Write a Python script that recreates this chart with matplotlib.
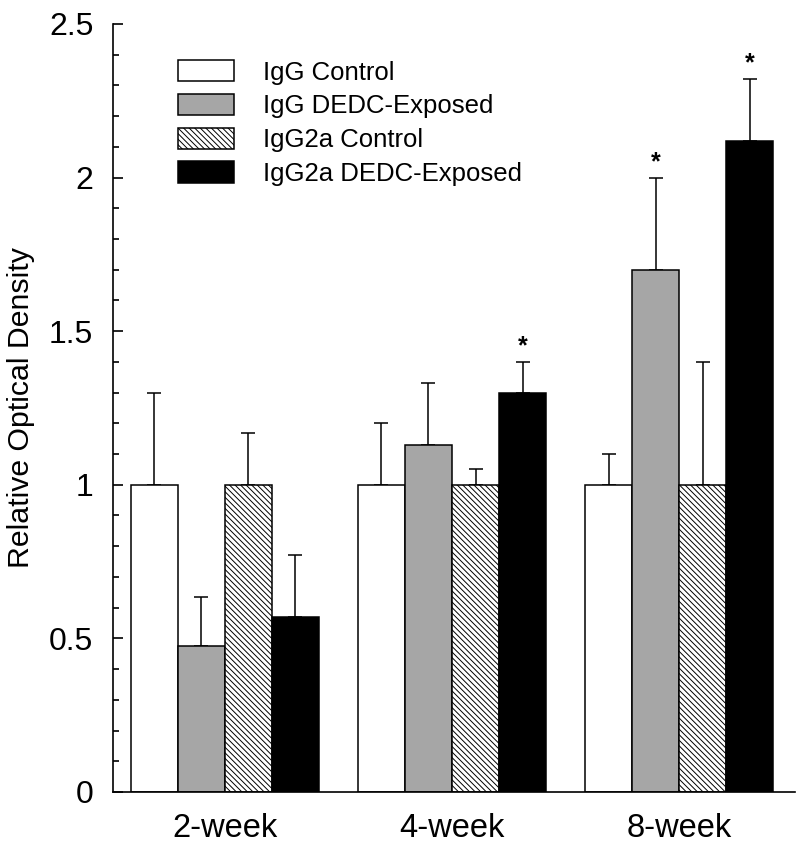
import matplotlib
matplotlib.use("Agg")
import matplotlib.pyplot as plt
import numpy as np
from matplotlib.ticker import MultipleLocator

plt.rcParams['font.family'] = ['Liberation Sans', 'DejaVu Sans']
plt.rcParams['hatch.color'] = '#888888'
plt.rcParams['hatch.linewidth'] = 0.7

groups = ["2-week", "4-week", "8-week"]
series = ["IgG Control", "IgG DEDC-Exposed", "IgG2a Control", "IgG2a DEDC-Exposed"]
igg_control = [1.0, 1.0, 1.0]
igg_dedc = [0.475, 1.13, 1.70]
igg2a_control = [1.0, 1.0, 1.0]
igg2a_dedc = [0.57, 1.30, 2.12]
err_igg_control = [0.30, 0.20, 0.10]
err_igg_dedc = [0.16, 0.20, 0.30]
err_igg2a_control = [0.17, 0.05, 0.40]
err_igg2a_dedc = [0.20, 0.10, 0.20]
# significance markers, per series, per group
sig_igg_control = [False, False, False]
sig_igg_dedc = [False, False, True]
sig_igg2a_control = [False, False, False]
sig_igg2a_dedc = [False, True, True]

values = [igg_control, igg_dedc, igg2a_control, igg2a_dedc]
errors = [err_igg_control, err_igg_dedc, err_igg2a_control, err_igg2a_dedc]
sigs = [sig_igg_control, sig_igg_dedc, sig_igg2a_control, sig_igg2a_dedc]
facecolors = ['white', '#a6a6a6', 'white', 'black']
hatches = [None, None, '\\\\\\\\\\\\', None]

fig = plt.figure(figsize=(8, 8.55), dpi=100)
ax = fig.add_axes([0.141, 0.0737, 0.853, 0.8983])

width = 47 / 227
x = np.arange(len(groups))
for i in range(4):
    pos = x + (i - 1.5) * width
    ax.bar(pos, values[i], width, color=facecolors[i], edgecolor='black',
           linewidth=1.1, hatch=hatches[i], label=series[i], zorder=2)
    ax.errorbar(pos, values[i], yerr=[np.zeros(3), errors[i]], fmt='none',
                ecolor='black', elinewidth=1.1, capsize=4.7, capthick=1.1, zorder=1)
    for g in range(3):
        if sigs[i][g]:
            ax.text(pos[g], values[i][g] + errors[i][g] + 0.012, '*', ha='center',
                    va='bottom', fontsize=18, fontweight='bold')

ax.set_xlim(-(225 - 113) / 227, (795 - 225) / 227)
ax.set_ylim(0, 2.5)
ax.set_xticks(x)
ax.set_xticklabels(groups, fontsize=23.5)
ax.tick_params(axis='x', length=0, pad=15)
ax.yaxis.set_minor_locator(MultipleLocator(0.1))
ax.set_yticks([0, 0.5, 1, 1.5, 2, 2.5])
ax.set_yticklabels(['0', '0.5', '1', '1.5', '2', '2.5'], fontsize=23)
ax.tick_params(axis='y', which='major', length=7, width=1.2, direction='in', pad=14)
ax.tick_params(axis='y', which='minor', length=4, width=1.2, direction='in')
ax.set_ylabel('Relative Optical Density', fontsize=21.8, labelpad=10)
for s in ['top', 'right']:
    ax.spines[s].set_visible(False)
ax.spines['left'].set_linewidth(1.2)
ax.spines['bottom'].set_linewidth(1.2)

ax.legend(loc='upper left', bbox_to_anchor=(0.095, 0.953), frameon=False,
          fontsize=18.5, handlelength=2.18, handleheight=0.9, handletextpad=1.13,
          labelspacing=0.36, borderpad=0, borderaxespad=0)

fig.savefig('out.png', dpi=100)
